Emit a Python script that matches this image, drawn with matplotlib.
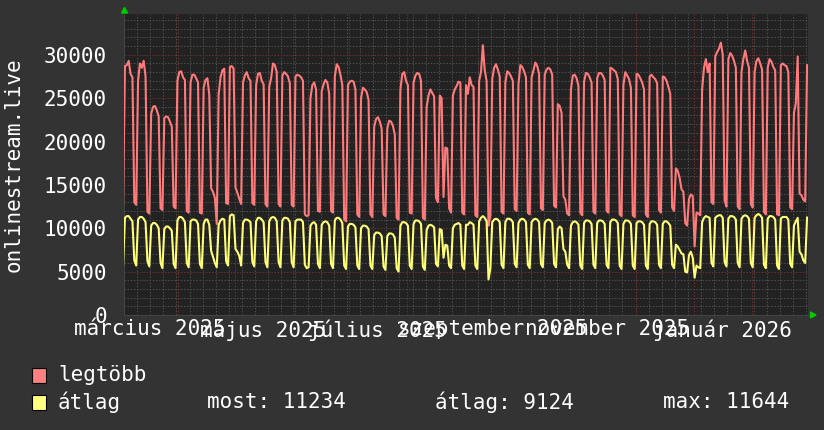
import numpy as np
import matplotlib.pyplot as plt
import matplotlib.patches as mpatches

plt.rcParams['font.family'] = 'DejaVu Sans Mono'
font_size = 15

# napi ertekek, hetente hetfotol vasarnapig (2025-03-03-tol)
legtobb_first = 12700
legtobb_weeks = [
    [28700, 28800, 29300, 27800, 27400, 13000, 12700],
    [27000, 29000, 28500, 29300, 27500, 11900, 11700],
    [23200, 24000, 24100, 23600, 22900, 12300, 12100],
    [22700, 22900, 22800, 22300, 21700, 12500, 12300],
    [27000, 28000, 28100, 27400, 27100, 12000, 11800],
    [26800, 27700, 27700, 27300, 26800, 11800, 11700],
    [26200, 27100, 27300, 25400, 14600, 14200, 13500],
    [10500, 25400, 27400, 28200, 28400, 12900, 12800],
    [28600, 28700, 28400, 14700, 14100, 13400, 12800],
    [26800, 27600, 28000, 27300, 27000, 12900, 12700],
    [26500, 27800, 27900, 27000, 26600, 12800, 12500],
    [26300, 27300, 29000, 28800, 28000, 12800, 12500],
    [27600, 28000, 27800, 27500, 26700, 12700, 12500],
    [27500, 27700, 27600, 27400, 27000, 11600, 11400],
    [11500, 25000, 26500, 26800, 26000, 12000, 11900],
    [25800, 26600, 27100, 26800, 25500, 12000, 11800],
    [27500, 28900, 28600, 27700, 26500, 11000, 10800],
    [26500, 26900, 27000, 26900, 26000, 11600, 11300],
    [25000, 26200, 26000, 25700, 24800, 11600, 11300],
    [21700, 22600, 22800, 22300, 21500, 11600, 11400],
    [21500, 22400, 22300, 21800, 20800, 11200, 11000],
    [26000, 27800, 28000, 27000, 26500, 11800, 11700],
    [26800, 27600, 27900, 27800, 27000, 11200, 11000],
    [24000, 25300, 26000, 25600, 25200, 13500, 13000],
    [25300, 25000, 13600, 19300, 19200, 12300, 11800],
    [25300, 26000, 26400, 26900, 26800, 11800, 11600],
    [26500, 25500, 27400, 26500, 26300, 11500, 11300],
    [27000, 28000, 31100, 28200, 27000, 10300, 11500],
    [27200, 28500, 28900, 28300, 27500, 11900, 11700],
    [26800, 28100, 27900, 27500, 27000, 12200, 12000],
    [26600, 28800, 28600, 28100, 27400, 11800, 11600],
    [27400, 28200, 29100, 28700, 27800, 12300, 12100],
    [27700, 28300, 28500, 28300, 27700, 12600, 12400],
    [24300, 24100, 23300, 13700, 13300, 11700, 11500],
    [26000, 27600, 27700, 27300, 26400, 11800, 11500],
    [26900, 27900, 27800, 27400, 26800, 11900, 11700],
    [27300, 27900, 27900, 27600, 27100, 12000, 11800],
    [28500, 28400, 28200, 28000, 27200, 11600, 11400],
    [26500, 28000, 27600, 27200, 26200, 11500, 11300],
    [27800, 27700, 27300, 26800, 26000, 11600, 11300],
    [27500, 27700, 27400, 27200, 26700, 12100, 11800],
    [27500, 27400, 27000, 26300, 25500, 12400, 12000],
    [16900, 16600, 15800, 14500, 14200, 10600, 10300],
    [13400, 13900, 13700, 7900, 11800, 11700, 11500],
    [26000, 28500, 29500, 28000, 29000, 13000, 12800],
    [29800, 30300, 30700, 31400, 30000, 13200, 12500],
    [29500, 30200, 29900, 29300, 28500, 12500, 12200],
    [28000, 29500, 30500, 29300, 28500, 12800, 12400],
    [28000, 29300, 29600, 29000, 28300, 11900, 11600],
    [28500, 29500, 29200, 28600, 28200, 11600, 11500],
    [28800, 29000, 28800, 28700, 28000, 12400, 12200],
    [23300, 24400, 29800, 14000, 13800, 13300, 13100],
]
legtobb_last = 28800

atlag_first = 5700
atlag_weeks = [
    [11200, 11400, 11400, 11100, 10800, 6300, 5700],
    [11000, 11300, 11300, 11100, 10700, 6200, 5600],
    [10300, 10600, 10600, 10400, 10000, 6000, 5400],
    [9900, 10200, 10200, 10000, 9700, 5900, 5400],
    [10900, 11300, 11300, 11100, 10700, 6000, 5500],
    [10800, 11000, 11000, 10900, 10500, 5900, 5400],
    [10500, 11000, 11000, 10400, 7400, 6700, 6000],
    [5500, 10400, 10900, 11100, 11000, 6200, 5700],
    [11400, 11600, 11500, 7600, 7300, 6800, 5700],
    [10600, 11000, 11000, 10900, 10700, 6100, 5600],
    [10800, 11200, 11200, 11000, 10700, 6100, 5500],
    [10800, 11200, 11300, 11200, 10800, 6100, 5500],
    [10900, 11200, 11200, 11100, 10700, 6100, 5500],
    [10800, 11000, 11000, 11000, 10700, 5800, 5400],
    [5500, 10300, 10600, 10700, 10400, 5900, 5400],
    [10400, 10700, 10800, 10700, 10300, 5900, 5400],
    [10900, 11200, 11200, 11000, 10600, 5700, 5300],
    [10200, 10500, 10500, 10400, 10100, 5700, 5300],
    [10000, 10300, 10300, 10200, 9900, 5700, 5300],
    [9200, 9500, 9500, 9400, 9100, 5600, 5200],
    [9100, 9400, 9400, 9300, 8900, 5400, 5000],
    [10300, 10700, 10700, 10600, 10300, 5700, 5300],
    [10500, 10900, 10900, 10800, 10500, 5600, 5200],
    [9800, 10300, 10400, 10300, 10100, 5900, 5600],
    [9900, 9800, 6600, 8100, 8000, 5700, 5400],
    [10000, 10400, 10500, 10600, 10400, 5700, 5300],
    [10400, 10400, 10700, 10600, 10400, 5700, 5300],
    [10800, 11200, 11400, 11200, 10800, 4100, 5400],
    [10700, 11000, 11100, 11000, 10700, 5800, 5400],
    [10700, 11100, 11100, 11000, 10700, 5900, 5500],
    [10600, 11000, 11100, 11000, 10700, 5800, 5400],
    [10700, 11000, 11100, 11000, 10700, 5900, 5500],
    [10600, 10900, 11000, 10900, 10600, 5900, 5500],
    [9900, 10200, 10000, 7600, 7300, 5800, 5400],
    [10300, 10700, 10800, 10700, 10400, 5700, 5300],
    [10600, 10900, 10900, 10800, 10500, 5800, 5400],
    [10600, 10900, 10900, 10800, 10500, 5800, 5400],
    [10700, 11000, 11000, 10900, 10600, 5700, 5300],
    [10500, 10900, 10900, 10800, 10500, 5700, 5300],
    [10600, 10800, 10800, 10700, 10400, 5700, 5300],
    [10500, 10800, 10800, 10700, 10400, 5800, 5400],
    [10500, 10800, 10800, 10600, 10300, 5800, 5400],
    [8100, 7900, 7500, 7100, 7000, 5000, 4900],
    [6900, 7300, 6600, 4300, 5700, 5500, 5400],
    [10700, 11200, 11400, 11300, 11200, 6000, 5600],
    [11200, 11400, 11500, 11500, 11200, 6100, 5600],
    [11100, 11400, 11400, 11300, 11000, 6000, 5500],
    [11100, 11400, 11500, 11400, 11100, 6000, 5500],
    [11200, 11500, 11644, 11500, 11200, 5800, 5400],
    [11100, 11400, 11400, 11300, 11000, 5700, 5300],
    [11100, 11300, 11300, 11300, 11000, 5900, 5500],
    [10300, 10800, 11200, 7300, 7000, 6300, 6000],
]
atlag_last = 11234

# racs es feliratok (napokban a kezdettol)
month_days = [29, 59, 90, 120, 151, 182, 212, 243, 273, 304, 335]
label_days = [13.5, 74.5, 135.5, 197, 258, 319.5]
label_texts = ['március 2025', 'május 2025', 'július 2025',
               'szeptember 2025', 'november 2025', 'január 2026']
y_ticks = [0, 5000, 10000, 15000, 20000, 25000, 30000]

legtobb = np.concatenate([[legtobb_first], np.ravel(legtobb_weeks), [legtobb_last]])
atlag = np.concatenate([[atlag_first], np.ravel(atlag_weeks), [atlag_last]])
days = np.arange(len(legtobb)) - 0.5   # a nap kozepe

W, H = 824, 430
fig = plt.figure(figsize=(W / 100, H / 100), dpi=100, facecolor='#333333')
ax = fig.add_axes([124 / W, 115 / H, 684 / W, 301 / H], facecolor='#222222')
ax.set_xlim(0, 365)
ax.set_ylim(0, 34700)

dots = (0, (1.5, 1.5))
week_days = np.arange(7, 365, 7)
ax.vlines(week_days, 0, 34700, colors='#4c4c4c', linestyles=dots, linewidth=0.75, zorder=1)
ax.vlines(month_days, 0, 34700, colors='#6e2c2c', linestyles=dots, linewidth=0.75, zorder=1)
minor_y = [v for v in range(1000, 35000, 1000) if v % 5000]
ax.hlines(minor_y, 0, 365, colors='#4c4c4c', linestyles=dots, linewidth=0.75, zorder=1)
ax.hlines(y_ticks[1:], 0, 365, colors='#6e2c2c', linestyles=dots, linewidth=0.75, zorder=1)

ax.plot(days, legtobb, color='#ff7b7b', lw=1.5, zorder=3)
ax.plot(days, atlag, color='#ffff77', lw=1.5, zorder=3)

ax.set_yticks(y_ticks, [str(v) for v in y_ticks])
ax.set_xticks(label_days, label_texts)
ax.tick_params(axis='y', length=0, pad=12.2, labelsize=font_size, colors='white')
ax.tick_params(axis='x', length=0, pad=3, labelsize=font_size, colors='white')
for side in ['top', 'right']:
    ax.spines[side].set_visible(False)
for side in ['left', 'bottom']:
    ax.spines[side].set_color('#444444')
    ax.spines[side].set_linewidth(0.75)

def fx(px):
    return px / W

def fy(py):
    return 1 - py / H

fig.text(fx(13.5), fy(164.5), 'onlinestream.live', rotation=90, ha='center',
         va='center', color='white', fontsize=font_size)

# zold nyilak
fig.add_artist(mpatches.Polygon([(fx(121.5), fy(13)), (fx(127.5), fy(13)), (fx(124.5), fy(7.5))],
                                closed=True, transform=fig.transFigure, color='#00cc00'))
fig.add_artist(mpatches.Polygon([(fx(810.5), fy(312)), (fx(810.5), fy(318)), (fx(816), fy(315))],
                                closed=True, transform=fig.transFigure, color='#00cc00'))

# jelmagyarazat
rows = [(375, '#ff8080', 'legtöbb'), (402, '#ffff80', 'átlag')]
for y, col, name in rows:
    fig.add_artist(mpatches.Rectangle((fx(32), fy(y + 7.5)), 14 / W, 15 / H,
                                      transform=fig.transFigure, facecolor=col,
                                      edgecolor='black', linewidth=0.8))
    fig.text(fx(58), fy(y), name, ha='left', va='center', color='white', fontsize=font_size)
fig.text(fx(207), fy(402), 'most: 11234', ha='left', va='center', color='white', fontsize=font_size)
fig.text(fx(435), fy(402), 'átlag: 9124', ha='left', va='center', color='white', fontsize=font_size)
fig.text(fx(663), fy(402), 'max: 11644', ha='left', va='center', color='white', fontsize=font_size)

fig.savefig('out.png', dpi=100, facecolor=fig.get_facecolor())
